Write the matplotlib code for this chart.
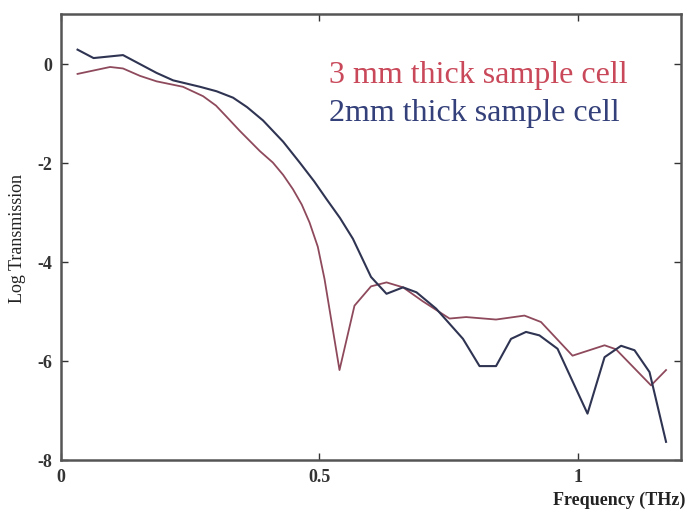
import matplotlib
matplotlib.use("Agg")
import matplotlib.pyplot as plt

# 3 mm thick sample cell (red)
freq_3mm = [0.032, 0.095, 0.120, 0.153, 0.185, 0.236, 0.275, 0.300, 0.320, 0.346, 0.385,
            0.410, 0.430, 0.449, 0.466, 0.481, 0.497, 0.510, 0.539, 0.568, 0.600, 0.630,
            0.662, 0.700, 0.752, 0.784, 0.842, 0.897, 0.929, 0.990, 1.052, 1.074, 1.142,
            1.171]
trans_3mm = [-0.21, -0.07, -0.10, -0.25, -0.36, -0.47, -0.66, -0.85, -1.07, -1.36, -1.77,
             -2.00, -2.25, -2.54, -2.85, -3.21, -3.70, -4.35, -6.19, -4.89, -4.50, -4.42,
             -4.52, -4.80, -5.15, -5.12, -5.17, -5.09, -5.22, -5.90, -5.69, -5.77, -6.50,
             -6.19]

# 2 mm thick sample cell (blue)
freq_2mm = [0.032, 0.063, 0.120, 0.185, 0.217, 0.269, 0.301, 0.333, 0.360, 0.391, 0.430,
            0.462, 0.490, 0.514, 0.540, 0.565, 0.600, 0.630, 0.662, 0.688, 0.726, 0.778,
            0.810, 0.842, 0.871, 0.900, 0.926, 0.961, 1.019, 1.052, 1.084, 1.110, 1.139,
            1.171]
trans_2mm = [0.28, 0.11, 0.17, -0.19, -0.34, -0.47, -0.56, -0.69, -0.88, -1.15, -1.58,
             -2.00, -2.38, -2.74, -3.12, -3.54, -4.31, -4.65, -4.52, -4.62, -4.95, -5.56,
             -6.11, -6.11, -5.56, -5.42, -5.49, -5.76, -7.07, -5.93, -5.70, -5.79, -6.23,
             -7.64]

x_ticks = [0, 0.5, 1]
x_tick_labels = ["0", "0.5", "1"]
y_ticks = [0, -2, -4, -6, -8]
y_tick_labels = ["0", "-2", "-4", "-6", "-8"]

plt.rcParams['font.family'] = ['Liberation Serif', 'DejaVu Serif']

fig = plt.figure(figsize=(6.87, 5.10), dpi=100)
ax = fig.add_axes([0.0888, 0.0967, 0.9025, 0.8739])

ax.plot(freq_3mm, trans_3mm, color='#8e4a5c', lw=1.3)
ax.plot(freq_2mm, trans_2mm, color='#2f3452', lw=1.5)

ax.set_xlim(0, 1.2)
ax.set_ylim(-8, 1)
ax.set_xticks(x_ticks)
ax.set_xticklabels(x_tick_labels)
ax.set_yticks(y_ticks)
ax.set_yticklabels(y_tick_labels)
ax.tick_params(direction='in', length=5, width=1, top=True, right=True,
               labelsize=13, colors='#333333', pad=6)
for lab in ax.get_xticklabels() + ax.get_yticklabels():
    lab.set_fontweight('bold')
for sp in ax.spines.values():
    sp.set_linewidth(1.8)
    sp.set_color('#555555')

ax.text(0.432, 0.847, "3 mm thick sample cell", transform=ax.transAxes,
        color='#c9495a', fontsize=23, va='baseline')
ax.text(0.432, 0.763, "2mm thick sample cell", transform=ax.transAxes,
        color='#34407a', fontsize=23, va='baseline')

fig.text(0.026, 0.533, "Log Transmission", rotation=90, ha='center', va='center',
         fontsize=13, color='#222222')
fig.text(0.998, 0.018, "Frequency (THz)", ha='right', va='center',
         fontsize=13, fontweight='bold', color='#222222')

fig.savefig("out.png", dpi=100)
